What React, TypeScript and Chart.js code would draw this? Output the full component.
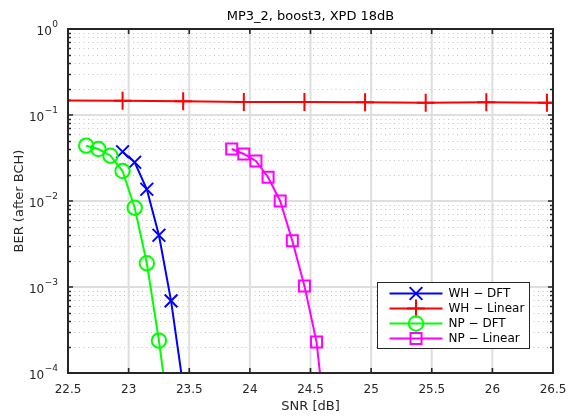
import React, { useEffect, useRef } from 'react';
import { Chart, registerables } from 'chart.js';
import { drawPoint } from 'chart.js/helpers';

Chart.register(...registerables);

const FONT = "'DejaVu Sans', sans-serif";

const chartTitle = 'MP3_2, boost3, XPD 18dB';
const xAxisTitle = 'SNR [dB]';
const yAxisTitle = 'BER (after BCH)';

const xTicks = [22.5, 23, 23.5, 24, 24.5, 25, 25.5, 26, 26.5];
const xTickLabels = ['22.5', '23', '23.5', '24', '24.5', '25', '25.5', '26', '26.5'];
const yTicks = [1e-4, 1e-3, 1e-2, 1e-1, 1];
const yTickExponents = ['\u22124', '\u22123', '\u22122', '\u22121', '0'];
const yMinorMultipliers = [2, 3, 4, 5, 6, 7, 8, 9];

const seriesNames = ['WH \u2212 DFT', 'WH \u2212 Linear', 'NP \u2212 DFT', 'NP \u2212 Linear'];
const seriesColors = ['#0000ff', '#ff0000', '#00ff00', '#ff00ff'];
const seriesMarkers = ['crossRot', 'cross', 'circle', 'rect'];
const seriesMarkerRadius = [9, 9, 7.2, 7.8];

const whDftSnr = [22.95, 23.05, 23.15, 23.25, 23.35, 23.45];
const whDftBer = [0.0374, 0.0282, 0.0137, 0.004, 0.00069, 0.00007];

const whLinSnr = [22.45, 22.95, 23.45, 23.95, 24.45, 24.95, 25.45, 25.95, 26.45, 26.95];
const whLinBer = [0.148, 0.1467, 0.1445, 0.142, 0.142, 0.1405, 0.139, 0.1405, 0.139, 0.139];

const npDftSnr = [22.65, 22.75, 22.85, 22.95, 23.05, 23.15, 23.25, 23.35];
const npDftBer = [0.044, 0.0402, 0.0336, 0.0223, 0.00836, 0.00189, 0.000238, 0.00002];

const npLinSnr = [23.85, 23.95, 24.05, 24.15, 24.25, 24.35, 24.45, 24.55, 24.65];
const npLinBer = [0.0402, 0.0352, 0.0292, 0.0189, 0.01, 0.00345, 0.00103, 0.000229, 0.000012];

const seriesX = [whDftSnr, whLinSnr, npDftSnr, npLinSnr];
const seriesY = [whDftBer, whLinBer, npDftBer, npLinBer];

const matlabAxes = {
  id: 'matlabAxes',
  beforeDatasetsDraw(chart: any) {
    const { ctx, chartArea: a, scales } = chart;
    const x = scales.x;
    const y = scales.y;
    ctx.save();
    // minor dotted horizontal grid
    ctx.strokeStyle = '#c4c4c4';
    ctx.lineWidth = 1;
    ctx.setLineDash([1, 3.5]);
    for (let i = 0; i < yTicks.length - 1; i++) {
      for (const m of yMinorMultipliers) {
        const py = Math.round(y.getPixelForValue(yTicks[i] * m)) + 0.5;
        ctx.beginPath();
        ctx.moveTo(a.left + 2, py);
        ctx.lineTo(a.right, py);
        ctx.stroke();
      }
    }
    // major grid
    ctx.setLineDash([]);
    ctx.strokeStyle = '#dedede';
    ctx.lineWidth = 2;
    for (const v of xTicks) {
      const px = x.getPixelForValue(v);
      ctx.beginPath();
      ctx.moveTo(px, a.top);
      ctx.lineTo(px, a.bottom);
      ctx.stroke();
    }
    for (const v of yTicks) {
      const py = y.getPixelForValue(v);
      ctx.beginPath();
      ctx.moveTo(a.left, py);
      ctx.lineTo(a.right, py);
      ctx.stroke();
    }
    ctx.restore();
  },
  afterDatasetsDraw(chart: any) {
    const { ctx, chartArea: a, scales, data } = chart;
    const x = scales.x;
    const y = scales.y;
    ctx.save();
    ctx.strokeStyle = '#262626';
    ctx.lineWidth = 2;
    ctx.strokeRect(a.left, a.top, a.right - a.left, a.bottom - a.top);
    ctx.lineWidth = 1.6;
    // x ticks (top & bottom)
    for (const v of xTicks) {
      const px = x.getPixelForValue(v);
      ctx.beginPath();
      ctx.moveTo(px, a.bottom);
      ctx.lineTo(px, a.bottom - 5);
      ctx.moveTo(px, a.top);
      ctx.lineTo(px, a.top + 5);
      ctx.stroke();
    }
    // y ticks major & minor (left & right)
    for (let i = 0; i < yTicks.length; i++) {
      const py = y.getPixelForValue(yTicks[i]);
      ctx.beginPath();
      ctx.moveTo(a.left, py);
      ctx.lineTo(a.left + 5, py);
      ctx.moveTo(a.right, py);
      ctx.lineTo(a.right - 5, py);
      ctx.stroke();
      if (i < yTicks.length - 1) {
        for (const m of yMinorMultipliers) {
          const pm = Math.round(y.getPixelForValue(yTicks[i] * m)) + 0.5;
          ctx.beginPath();
          ctx.moveTo(a.left, pm);
          ctx.lineTo(a.left + 3, pm);
          ctx.moveTo(a.right, pm);
          ctx.lineTo(a.right - 3, pm);
          ctx.stroke();
        }
      }
    }
    // y tick labels with superscripts
    ctx.fillStyle = '#262626';
    ctx.textBaseline = 'middle';
    ctx.textAlign = 'left';
    for (let i = 0; i < yTicks.length; i++) {
      const py = y.getPixelForValue(yTicks[i]);
      const exp = yTickExponents[i];
      ctx.font = `9px ${FONT}`;
      const ws = ctx.measureText(exp).width;
      ctx.font = `12px ${FONT}`;
      const wb = ctx.measureText('10').width;
      const right = a.left - 10;
      ctx.fillText('10', right - ws - wb - 0.5, py + 3);
      ctx.font = `9px ${FONT}`;
      ctx.fillText(exp, right - ws, py - 4);
    }
    // legend
    const lx = 377.5;
    const ly = 282.5;
    const lw = 152;
    const lh = 66;
    ctx.fillStyle = '#ffffff';
    ctx.fillRect(lx, ly, lw, lh);
    ctx.strokeStyle = '#262626';
    ctx.lineWidth = 1;
    ctx.strokeRect(lx, ly, lw, lh);
    data.datasets.forEach((ds: any, i: number) => {
      const ry = ly + 11 + i * 15;
      ctx.strokeStyle = ds.borderColor;
      ctx.lineWidth = 2;
      ctx.beginPath();
      ctx.moveTo(lx + 12, ry);
      ctx.lineTo(lx + 65, ry);
      ctx.stroke();
      ctx.fillStyle = 'rgba(0,0,0,0)';
      drawPoint(ctx, { pointStyle: ds.pointStyle, rotation: 0, radius: ds.pointRadius, borderWidth: 2 }, lx + 38.5, ry);
      ctx.fillStyle = '#000000';
      ctx.font = `12px ${FONT}`;
      ctx.textAlign = 'left';
      ctx.textBaseline = 'middle';
      ctx.fillText(ds.label, lx + 71, ry + 0.5);
    });
    ctx.restore();
  },
};

export default function App() {
  const canvasRef = useRef<HTMLCanvasElement | null>(null);

  useEffect(() => {
    document.body.style.margin = '0';
    const canvas = canvasRef.current;
    if (!canvas) return;
    Chart.defaults.font.family = FONT;
    const datasets = seriesNames.map((name, i) => ({
      label: name,
      data: seriesX[i].map((xv, j) => ({ x: xv, y: seriesY[i][j] })),
      borderColor: seriesColors[i],
      backgroundColor: seriesColors[i],
      borderWidth: 2,
      pointStyle: seriesMarkers[i],
      pointRadius: seriesMarkerRadius[i],
      pointHoverRadius: seriesMarkerRadius[i],
      pointBorderColor: seriesColors[i],
      pointBackgroundColor: 'rgba(0,0,0,0)',
      pointBorderWidth: 2,
      tension: 0,
      fill: false,
      clip: 0,
      order: seriesNames.length - i,
    }));
    const chart = new Chart(canvas, {
      type: 'line',
      data: { datasets },
      options: {
        responsive: false,
        maintainAspectRatio: false,
        animation: false,
        events: [],
        layout: { padding: { left: 0, right: 15, top: 0, bottom: 0 } },
        plugins: {
          legend: { display: false },
          tooltip: { enabled: false },
          title: {
            display: true,
            text: chartTitle,
            color: '#000000',
            fullSize: false,
            font: { size: 13, weight: 'normal', family: FONT },
            padding: { top: 8.5, bottom: 4.9 },
          },
        },
        scales: {
          x: {
            type: 'linear',
            min: 22.5,
            max: 26.5,
            grid: { display: false, drawTicks: false, tickLength: 0 },
            border: { display: false },
            afterBuildTicks: (s: any) => {
              s.ticks = xTicks.map((v) => ({ value: v }));
            },
            afterFit: (s: any) => {
              s.height = 43;
              s.paddingLeft = 0;
              s.paddingRight = 0;
            },
            ticks: {
              color: '#262626',
              font: { size: 12, family: FONT },
              padding: 10,
              maxRotation: 0,
              autoSkip: false,
              callback: (_v: any, i: number) => xTickLabels[i],
            },
            title: {
              display: true,
              text: xAxisTitle,
              color: '#262626',
              font: { size: 13, family: FONT },
              padding: { top: 0, bottom: 2 },
            },
          },
          y: {
            type: 'logarithmic',
            min: 1e-4,
            max: 1,
            grid: { display: false, drawTicks: false },
            border: { display: false },
            afterBuildTicks: (s: any) => {
              s.ticks = yTicks.map((v) => ({ value: v }));
            },
            afterFit: (s: any) => {
              s.width = 68;
              s.paddingTop = 0;
              s.paddingBottom = 0;
            },
            ticks: { display: false },
            title: {
              display: true,
              text: yAxisTitle,
              color: '#262626',
              font: { size: 13, family: FONT },
              padding: { top: 12, bottom: 0 },
            },
          },
        },
      },
      plugins: [matlabAxes],
    } as any);
    return () => {
      chart.destroy();
    };
  }, []);

  return (
    <div style={{ position: 'absolute', left: 0, top: 0, width: 568, height: 416, background: '#ffffff' }}>
      <canvas ref={canvasRef} width={568} height={416} />
    </div>
  );
}
